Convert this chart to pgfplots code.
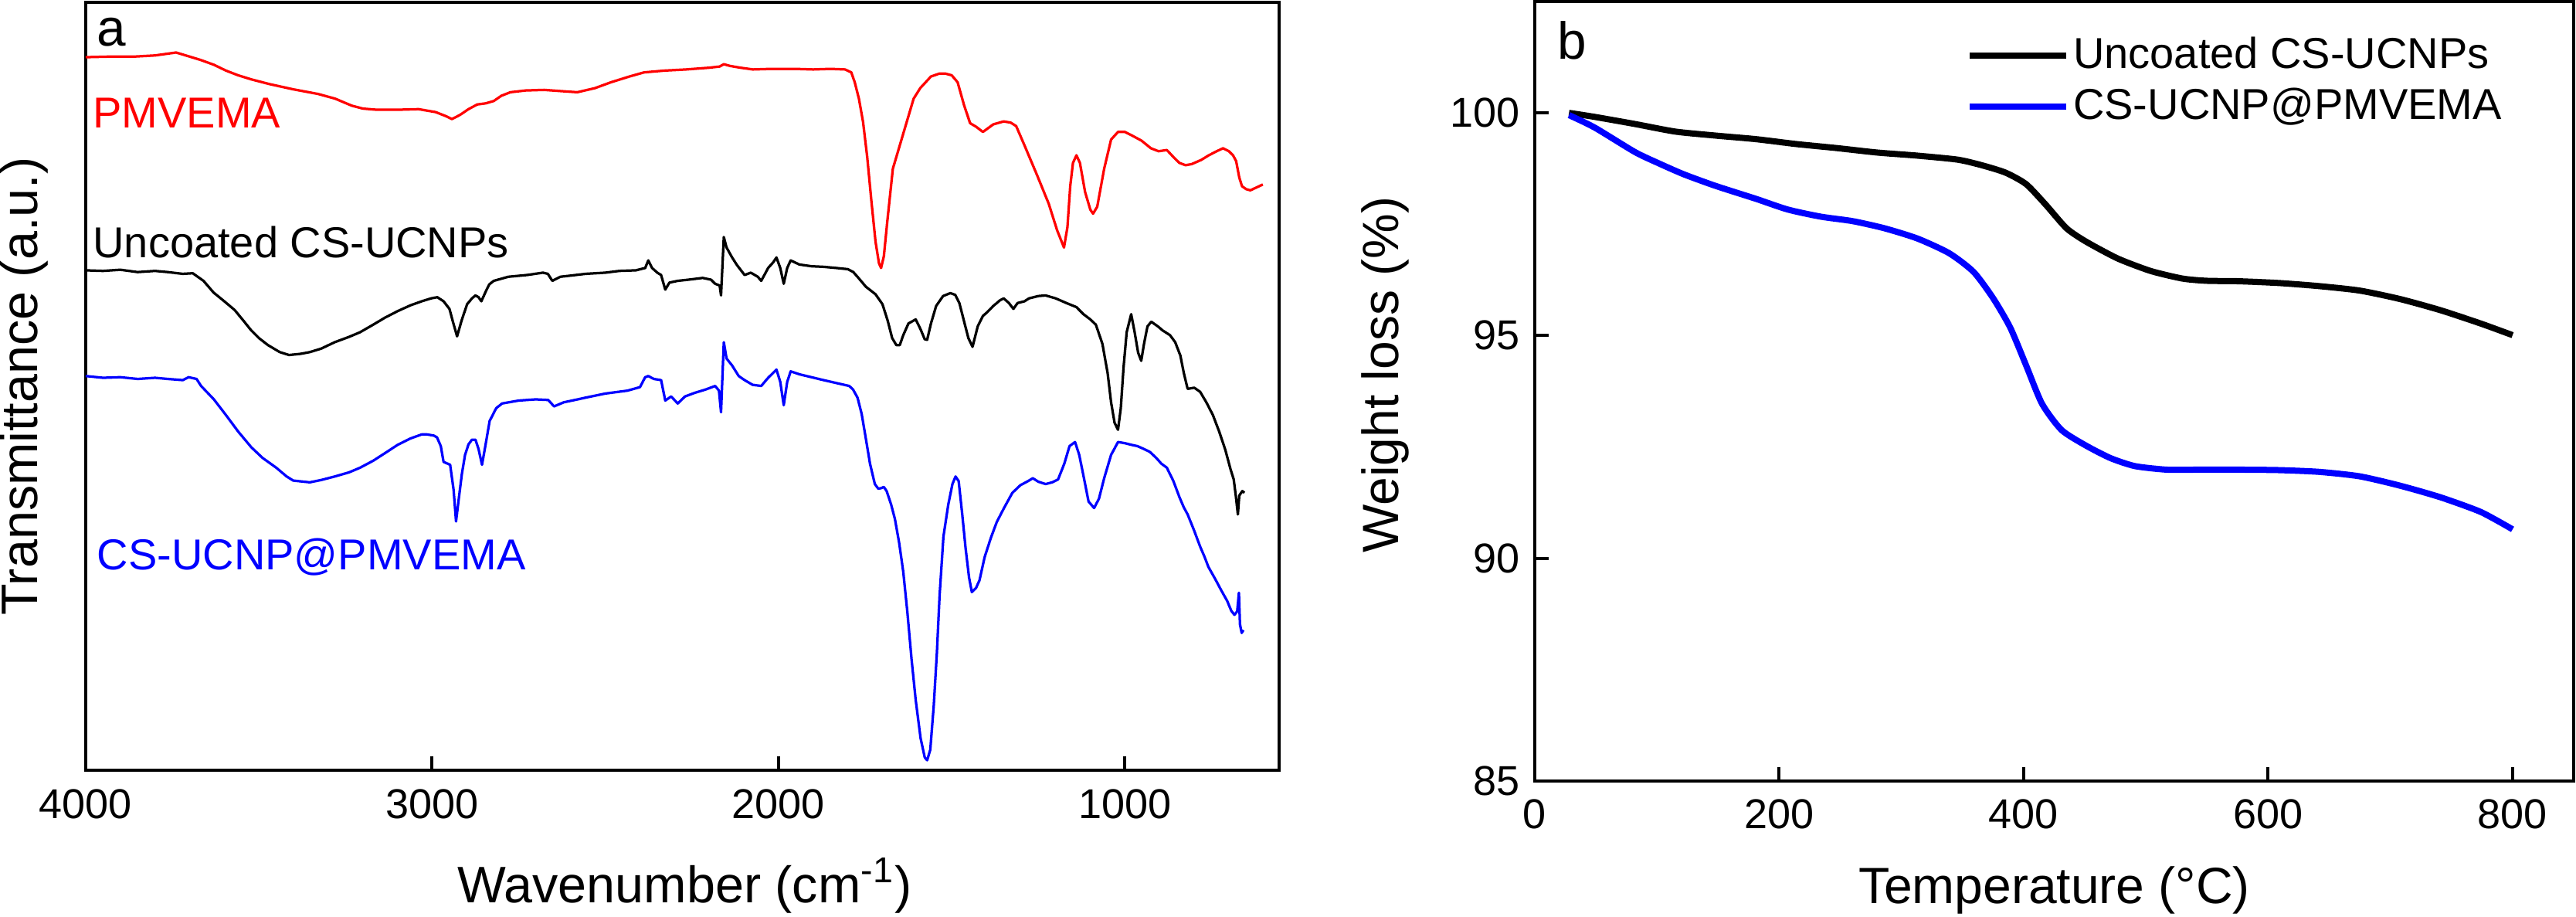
\documentclass[border=0pt]{standalone}
\usepackage{fontspec}
\setmainfont{Liberation Sans}
\setsansfont{Liberation Sans}
\usepackage{pgfplots}
\usepackage{pgfplotstable}
\pgfplotsset{compat=1.18}

\definecolor{ftirred}{RGB}{255,0,0}
\definecolor{ftirblue}{RGB}{0,0,255}

% FTIR spectra (wavenumber, offset transmittance in arbitrary units)
\pgfplotstableread{
w y
4000 1221
3930 1222
3860 1222
3800 1224
3739 1229
3700 1222
3667 1216
3630 1208
3595 1198
3560 1190
3522 1183
3470 1175
3401 1166
3329 1158
3280 1150
3232 1138
3200 1133
3160 1131
3100 1131
3039 1132
2990 1127
2960 1120
2943 1115
2920 1122
2895 1132
2870 1140
2845 1142
2822 1146
2800 1155
2774 1161
2730 1164
2677 1165
2630 1163
2581 1161
2530 1168
2484 1178
2430 1188
2388 1195
2330 1198
2267 1200
2200 1203
2170 1205
2158 1209
2140 1206
2110 1203
2074 1200
2020 1201
1953 1201
1900 1200
1850 1201
1808 1200
1790 1195
1780 1178
1768 1150
1756 1110
1744 1050
1732 975
1720 905
1710 868
1704 860
1696 880
1686 940
1670 1030
1651 1068
1630 1110
1610 1150
1591 1168
1560 1188
1535 1193
1519 1193
1500 1190
1483 1178
1465 1140
1447 1108
1430 1102
1410 1093
1380 1106
1350 1111
1330 1109
1314 1103
1290 1070
1253 1018
1220 970
1196 925
1176 895
1166 930
1158 1000
1150 1040
1140 1053
1130 1040
1115 990
1100 960
1092 953
1080 965
1060 1030
1040 1080
1020 1093
1000 1093
980 1087
952 1078
925 1065
903 1060
879 1062
860 1050
843 1040
825 1036
807 1038
780 1045
758 1053
735 1060
717 1065
700 1060
688 1053
679 1043
670 1015
662 1000
650 995
638 993
620 998
602 1003
}\pmvema

\pgfplotstableread{
w y
4000 856
3950 855
3900 857
3850 853
3800 855
3763 853
3720 850
3691 851
3660 838
3631 818
3600 803
3570 788
3545 770
3522 753
3500 740
3474 728
3440 716
3413 711
3380 713
3353 716
3320 722
3281 733
3240 742
3208 750
3170 763
3136 775
3100 786
3063 796
3030 803
3003 808
2985 810
2967 803
2950 790
2940 768
2928 743
2915 770
2899 798
2885 808
2875 813
2866 810
2858 803
2845 820
2835 832
2822 838
2780 845
2726 848
2680 852
2666 850
2653 838
2630 845
2600 847
2557 850
2500 852
2460 855
2412 856
2385 860
2376 873
2365 860
2350 852
2339 848
2327 823
2315 835
2291 838
2260 840
2219 843
2195 840
2183 833
2170 830
2166 813
2158 913
2150 895
2134 878
2120 865
2098 848
2080 852
2060 845
2050 838
2030 860
2015 870
2006 878
1995 860
1985 833
1975 860
1965 873
1940 866
1905 863
1870 862
1833 860
1800 858
1784 853
1765 840
1748 828
1720 815
1700 798
1685 770
1672 740
1660 728
1650 728
1640 745
1625 765
1604 772
1590 755
1578 738
1571 737
1560 765
1545 795
1525 812
1504 817
1490 814
1478 800
1465 770
1452 740
1440 725
1425 760
1410 778
1400 783
1380 795
1360 805
1350 808
1335 800
1322 790
1310 800
1290 803
1277 808
1250 812
1229 813
1200 808
1169 800
1140 793
1120 781
1100 772
1084 763
1065 730
1050 680
1040 630
1030 595
1020 583
1012 620
1004 690
995 750
982 781
972 750
962 715
953 701
945 730
935 760
924 768
905 760
891 753
870 745
855 733
840 710
830 680
819 653
800 655
783 648
765 630
746 608
728 580
710 548
695 515
686 498
680 470
674 438
670 470
667 473
661 478
655 475
}\uncoated

\pgfplotstableread{
w y
4000 675
3950 672
3900 673
3850 670
3800 672
3763 670
3720 668
3703 673
3680 670
3667 658
3630 635
3595 608
3560 580
3522 553
3490 535
3450 518
3420 503
3401 496
3370 494
3353 493
3320 497
3281 503
3240 510
3208 518
3170 530
3136 543
3100 557
3063 568
3030 575
3015 575
2995 573
2986 570
2975 555
2967 528
2948 523
2938 480
2931 426
2922 470
2914 508
2905 540
2895 558
2885 566
2875 566
2866 550
2856 523
2845 560
2834 598
2815 620
2798 628
2750 633
2701 635
2665 634
2648 623
2620 630
2580 635
2557 638
2500 645
2436 650
2400 656
2385 673
2376 675
2360 670
2339 668
2327 633
2310 640
2291 628
2270 640
2243 646
2210 652
2183 658
2172 650
2166 613
2158 733
2150 705
2134 693
2115 675
2098 668
2075 660
2050 658
2030 672
2006 686
1995 665
1985 625
1975 665
1965 683
1940 678
1905 673
1870 668
1833 663
1796 658
1785 652
1772 638
1760 610
1748 568
1736 525
1722 490
1712 482
1704 483
1696 485
1688 478
1675 455
1664 430
1652 390
1640 340
1628 270
1616 190
1604 120
1590 55
1578 22
1571 17
1562 35
1552 110
1543 200
1535 300
1524 400
1510 455
1498 490
1489 503
1480 495
1470 440
1460 380
1450 330
1442 305
1430 312
1420 325
1405 365
1387 398
1370 425
1350 448
1325 475
1302 488
1280 495
1266 500
1250 494
1229 490
1210 493
1193 498
1175 525
1160 555
1144 562
1132 540
1120 505
1105 460
1089 449
1075 465
1060 500
1040 540
1020 562
1000 560
980 557
964 555
945 550
928 545
910 535
895 525
879 518
860 495
843 468
830 450
819 438
800 410
783 383
770 365
759 348
740 328
722 308
705 290
693 273
684 266
676 272
671 304
668 250
663 235
658 240
}\coated

% TGA curves (temperature in degC, remaining weight in %)
\pgfplotstableread{
T W
28 100.00
49 99.91
82 99.75
115 99.58
148 99.49
181 99.41
214 99.30
247 99.21
280 99.11
313 99.04
346 98.95
365 98.83
385 98.66
402 98.40
418 97.94
435 97.41
451 97.11
477 96.73
504 96.45
530 96.28
550 96.23
576 96.22
609 96.18
642 96.11
675 96.01
708 95.82
741 95.57
774 95.27
800 95.01
}\tgabare

\pgfplotstableread{
T W
28 99.95
49 99.67
82 99.12
102 98.86
122 98.62
148 98.36
181 98.07
207 97.83
234 97.67
260 97.57
286 97.41
313 97.18
339 96.85
359 96.43
375 95.84
389 95.18
402 94.33
415 93.47
431 92.88
451 92.53
471 92.25
491 92.07
517 91.99
543 91.99
576 91.99
609 91.98
642 91.94
675 91.84
708 91.63
741 91.37
774 91.04
800 90.65
}\tgacoated

\pgfplotsset{
  panel/.style={
    scale only axis,
    anchor=south west,
    axis line style={line width=0.8pt},
    tick align=inside,
    major tick length=3.5pt,
    every tick/.append style={black, line width=0.8pt},
    tick pos=left,
    tick label style={font=\fontsize{10.8}{13}\selectfont},
    /pgf/number format/assume math mode=true,
    /pgf/number format/1000 sep={},
    clip=false,
  },
  every axis plot/.append style={line join=round},
}

\begin{document}
\begin{tikzpicture}
\path[use as bounding box] (0,0) rectangle (667pt,237.4pt);

% (a) FTIR spectra
\begin{axis}[panel,
  at={(22.2pt,38pt)},
  width=309pt, height=198.8pt,
  x dir=reverse,
  xmin=555, xmax=4000,
  ymin=0, ymax=1315,
  xtick={1000,2000,3000,4000},
  ytick=\empty,
  xticklabel style={yshift=-1.4pt},
  every axis x label/.style={at={(axis description cs:0.502,0)}, yshift=-34.4pt, anchor=base},
  every axis y label/.style={at={(axis description cs:0,0.5)}, xshift=-12.4pt, anchor=base, rotate=90},
  label style={font=\fontsize{13.3}{16}\selectfont},
  xlabel={Wavenumber (cm\textsuperscript{-1})},
  ylabel={Transmittance (a.u.)},
]
\addplot[ftirred, line width=0.65pt] table[x=w, y=y] {\pmvema};
\addplot[black, line width=0.65pt] table[x=w, y=y] {\uncoated};
\addplot[ftirblue, line width=0.65pt] table[x=w, y=y] {\coated};
\node[anchor=base west, inner sep=0pt, font=\fontsize{13.5}{16}\selectfont] at (axis cs:3969,1240) {a};
\node[anchor=base west, inner sep=0pt, text=ftirred, font=\fontsize{11.2}{13}\selectfont] at (axis cs:3981,1100) {PMVEMA};
\node[anchor=base west, inner sep=0pt, font=\fontsize{11.2}{13}\selectfont] at (axis cs:3981,878) {Uncoated CS-UCNPs};
\node[anchor=base west, inner sep=0pt, text=ftirblue, font=\fontsize{11.2}{13}\selectfont] at (axis cs:3969,343) {CS-UCNP@PMVEMA};
\end{axis}

% (b) TGA curves
\begin{axis}[panel,
  at={(397.4pt,35.2pt)},
  width=269pt, height=201.8pt,
  xmin=0, xmax=850,
  ymin=85, ymax=102.5,
  xtick={0,200,400,600,800},
  ytick={85,90,95,100},
  xticklabel style={yshift=-1.2pt},
  yticklabel style={xshift=-0.4pt},
  every axis x label/.style={at={(axis description cs:0.5,0)}, yshift=-31.8pt, anchor=base},
  every axis y label/.style={at={(axis description cs:0,0.521)}, xshift=-35.4pt, anchor=base, rotate=90},
  label style={font=\fontsize{13.2}{16}\selectfont},
  xlabel={Temperature (°C)},
  ylabel={Weight loss (\%)},
  legend cell align=left,
  legend style={draw=none, fill=none, at={(axis description cs:0.415,0.96)}, anchor=north west,
    inner sep=0pt, font=\fontsize{11.2}{13}\selectfont, row sep=1.5pt, nodes={inner sep=1pt}},
  legend image code/.code={\draw[#1, line width=1.6pt] (0pt,0pt) -- (25pt,0pt);},
]
\addplot[black, line width=1.6pt, smooth, tension=0.4] table[x=T, y=W] {\tgabare};
\addlegendentry{Uncoated CS-UCNPs}
\addplot[ftirblue, line width=1.6pt, smooth, tension=0.4] table[x=T, y=W] {\tgacoated};
\addlegendentry{CS-UCNP@PMVEMA}
\node[anchor=base west, inner sep=0pt, font=\fontsize{13.5}{16}\selectfont] at (axis description cs:0.021,0.926) {b};
\end{axis}
\end{tikzpicture}
\end{document}
